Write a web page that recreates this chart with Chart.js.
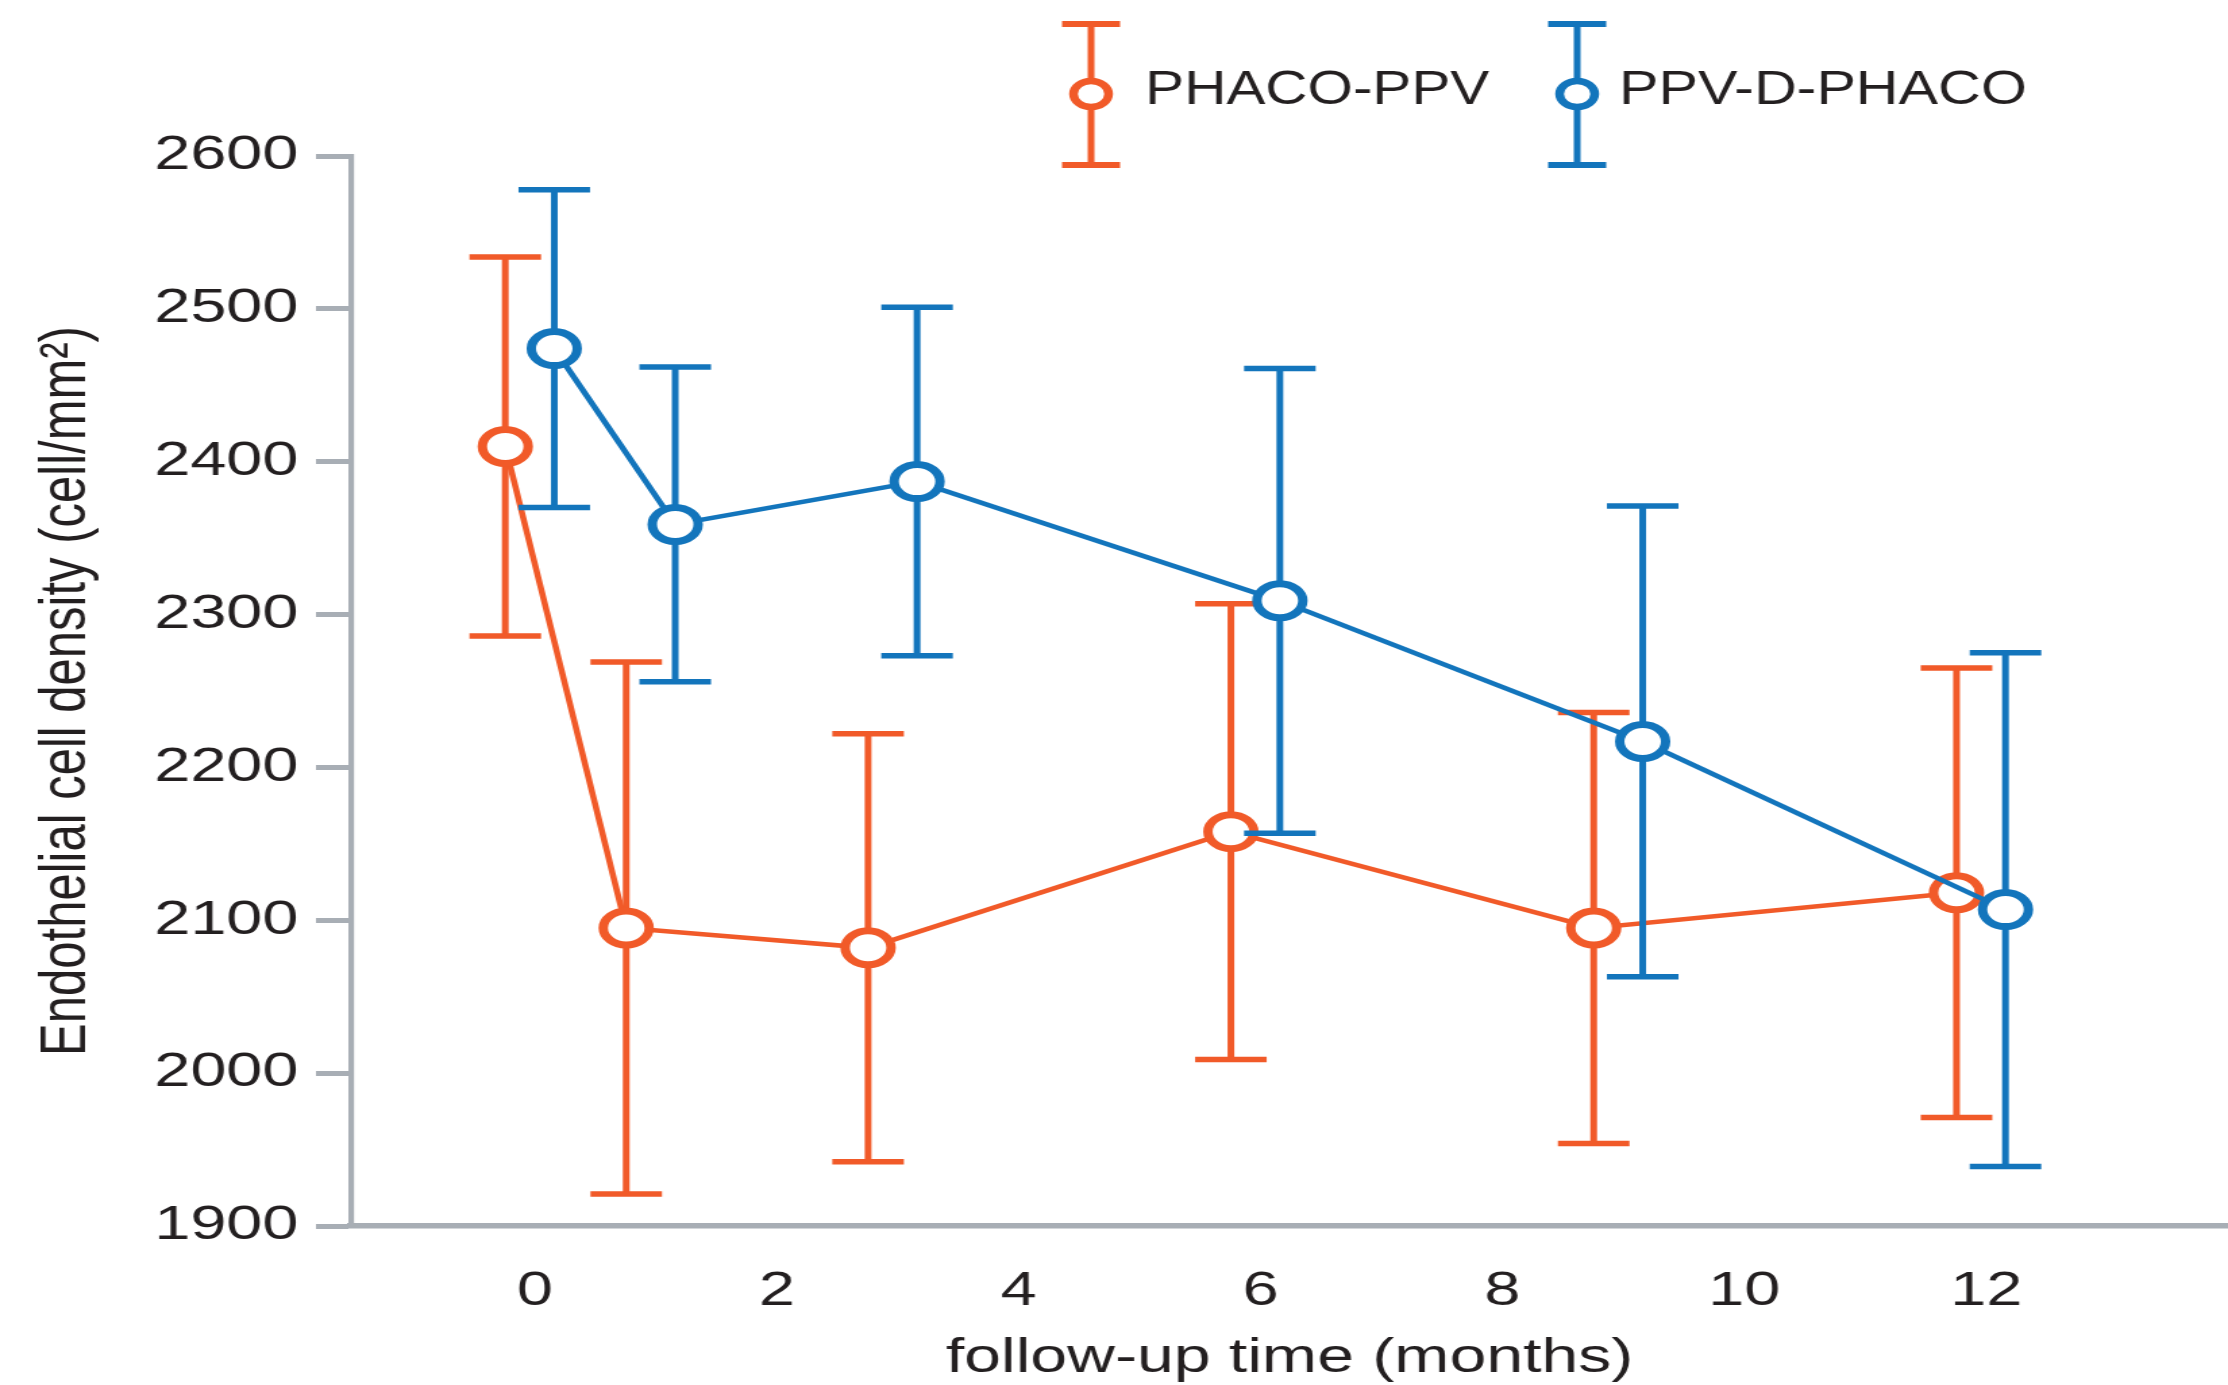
<!DOCTYPE html>
<html>
<head>
<meta charset="utf-8">
<script src="https://cdn.jsdelivr.net/npm/chart.js@4.4.1/dist/chart.umd.min.js"></script>
<style>
html, body { margin: 0; padding: 0; background: #ffffff; overflow: hidden; }
#wrap { width: 2228px; height: 1385px; overflow: hidden; position: relative; }
#c { display: block; width: 1650px; height: 1385px; transform: scaleX(1.350303); transform-origin: 0 0; }
</style>
</head>
<body>
<div id="wrap"><canvas id="c" width="1650" height="1385"></canvas></div>
<script>
// ---- data ----
const months = [0, 1, 3, 6, 9, 12];
const seriesNames = ['PHACO-PPV', 'PPV-D-PHACO'];
const phacoPpvMean = [2410, 2095, 2082, 2158, 2095, 2118];
const phacoPpvSD   = [124, 174, 140, 149, 141, 147];
const ppvDPhacoMean = [2474, 2359, 2387, 2309, 2217, 2107];
const ppvDPhacoSD   = [104, 103, 114, 152, 154, 168];
const xTickValues = [0, 2, 4, 6, 8, 10, 12];
const yTickValues = [1900, 2000, 2100, 2200, 2300, 2400, 2500, 2600];
const xAxisTitle = 'follow-up time (months)';
const yAxisTitle = 'Endothelial cell density (cell/mm²)';

// ---- styling ----
const ORANGE = '#F15A29';
const BLUE = '#1375BC';
const AXIS = '#A8AEB5';
const TEXT = '#231F20';
const DODGE = [-0.245, 0.16];
Chart.defaults.font.family = "'Liberation Sans', Arial, Helvetica, sans-serif";

function toPoints(means, dodge) {
  return months.map((m, i) => ({ x: m + dodge, y: means[i] }));
}

const errorBarPlugin = {
  id: 'errorBars',
  beforeDatasetDraw(chart, args) {
    const ds = chart.data.datasets[args.index];
    if (!ds.sd) return;
    const xs = chart.scales.x, ys = chart.scales.y, ctx = chart.ctx;
    const half = 26.5;
    ctx.save();
    ctx.strokeStyle = ds.borderColor;
    ctx.lineCap = 'butt';
    ds.data.forEach((p, j) => {
      const sd = ds.sd[j];
      const x = xs.getPixelForValue(p.x);
      const yt = ys.getPixelForValue(p.y + sd);
      const yb = ys.getPixelForValue(p.y - sd);
      ctx.lineWidth = 5;
      ctx.beginPath(); ctx.moveTo(x, yt); ctx.lineTo(x, yb); ctx.stroke();
      ctx.lineWidth = 5.5;
      ctx.beginPath();
      ctx.moveTo(x - half, yt); ctx.lineTo(x + half, yt);
      ctx.moveTo(x - half, yb); ctx.lineTo(x + half, yb);
      ctx.stroke();
    });
    ctx.restore();
  }
};

const legendPlugin = {
  id: 'errorLegend',
  afterDraw(chart) {
    const ctx = chart.ctx;
    const layout = [
      { x: 808, tx: 848, tw: 255 },
      { x: 1168, tx: 1199, tw: 302 }
    ];
    chart.data.datasets.forEach((ds, i) => {
      const it = layout[i];
      ctx.save();
      ctx.strokeStyle = ds.borderColor;
      ctx.lineWidth = 5;
      ctx.beginPath(); ctx.moveTo(it.x, 24); ctx.lineTo(it.x, 165); ctx.stroke();
      ctx.lineWidth = 6;
      ctx.beginPath();
      ctx.moveTo(it.x - 21.5, 24); ctx.lineTo(it.x + 21.5, 24);
      ctx.moveTo(it.x - 21.5, 165); ctx.lineTo(it.x + 21.5, 165);
      ctx.stroke();
      ctx.beginPath();
      ctx.arc(it.x, 94, 13, 0, Math.PI * 2);
      ctx.fillStyle = '#ffffff';
      ctx.fill();
      ctx.lineWidth = 6.5;
      ctx.stroke();
      ctx.font = "49px 'Liberation Sans', Arial, sans-serif";
      ctx.fillStyle = TEXT;
      ctx.textBaseline = 'alphabetic';
      ctx.textAlign = 'left';
      const w = ctx.measureText(ds.label).width;
      ctx.translate(it.tx, 103.5);
      ctx.scale(it.tw / w, 1);
      ctx.fillText(ds.label, 0, 0);
      ctx.restore();
    });
  }
};

new Chart(document.getElementById('c'), {
  type: 'line',
  data: {
    datasets: [
      {
        label: seriesNames[0],
        data: toPoints(phacoPpvMean, DODGE[0]),
        sd: phacoPpvSD,
        borderColor: ORANGE,
        backgroundColor: '#ffffff',
        borderWidth: 4.6,
        pointRadius: 17,
        pointHoverRadius: 17,
        pointBorderWidth: 7,
        pointBackgroundColor: '#ffffff',
        pointBorderColor: ORANGE,
        tension: 0,
        fill: false,
        order: 2
      },
      {
        label: seriesNames[1],
        data: toPoints(ppvDPhacoMean, DODGE[1]),
        sd: ppvDPhacoSD,
        borderColor: BLUE,
        backgroundColor: '#ffffff',
        borderWidth: 4.6,
        pointRadius: 17,
        pointHoverRadius: 17,
        pointBorderWidth: 7,
        pointBackgroundColor: '#ffffff',
        pointBorderColor: BLUE,
        tension: 0,
        fill: false,
        order: 1
      }
    ]
  },
  options: {
    responsive: false,
    devicePixelRatio: 1,
    animation: false,
    events: [],
    layout: { autoPadding: false, padding: { top: 156, left: 0, right: 0, bottom: 0 } },
    plugins: { legend: { display: false }, tooltip: { enabled: false } },
    scales: {
      x: {
        type: 'linear',
        min: -1.52,
        max: 14,
        afterBuildTicks: s => { s.ticks = xTickValues.map(v => ({ value: v })); },
        afterFit: s => { s.height = 159; },
        grid: { display: false, drawTicks: false, drawOnChartArea: false },
        border: { display: true, color: AXIS, width: 5.5 },
        ticks: { color: TEXT, font: { size: 48 }, padding: 37, maxRotation: 0, autoSkip: false, callback: v => String(v) },
        title: { display: true, text: xAxisTitle, color: TEXT, font: { size: 49, lineHeight: 1.1 }, padding: { top: 0, bottom: 0 } }
      },
      y: {
        min: 1900,
        max: 2600,
        afterBuildTicks: s => { s.ticks = yTickValues.map(v => ({ value: v })); },
        afterFit: s => { s.width = 260; },
        grid: { display: true, drawOnChartArea: false, drawTicks: true, tickLength: 26, tickWidth: 5, tickColor: AXIS, color: AXIS, lineWidth: 1 },
        border: { display: true, color: AXIS, width: 4.2 },
        ticks: { color: TEXT, font: { size: 48 }, padding: 13, callback: v => String(v) },
        title: { display: true, text: yAxisTitle, color: TEXT, font: { size: 49 }, padding: { top: 20, bottom: 0 } }
      }
    }
  },
  plugins: [errorBarPlugin, legendPlugin]
});
</script>
</body>
</html>
